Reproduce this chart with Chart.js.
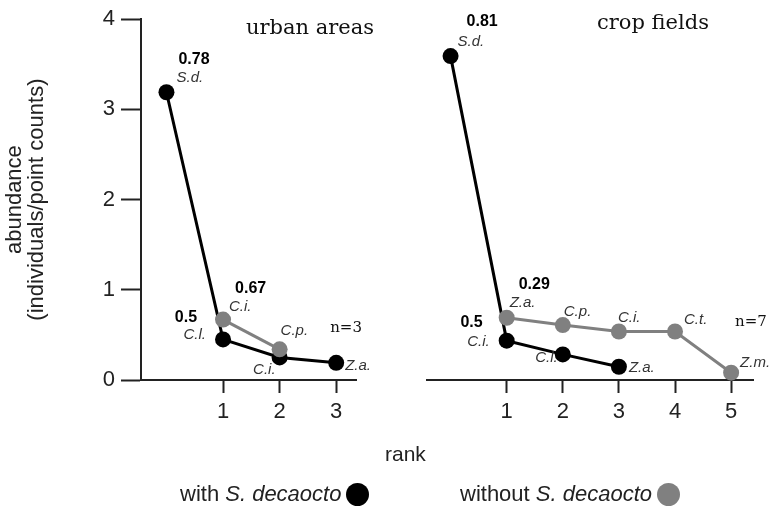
<!DOCTYPE html>
<html>
<head>
<meta charset="utf-8">
<script src="https://cdn.jsdelivr.net/npm/chart.js@4.4.1/dist/chart.umd.min.js"></script>
<style>
  body { margin: 0; background: #fff; }
  #wrap { position: relative; width: 769px; height: 513px; overflow: hidden; font-family: "Liberation Sans", Arial, sans-serif; color: #222; }
  canvas { position: absolute; top: 0; }
  .panel-title { position: absolute; font-family: "DejaVu Serif", serif; font-size: 21px; color: #111; white-space: nowrap; }
  .rank { position: absolute; left: 385px; top: 442px; font-size: 21px; }
  .legend { position: absolute; top: 481px; font-size: 22px; white-space: nowrap; display: flex; align-items: center; }
  .dot { display: inline-block; width: 23px; height: 23px; border-radius: 50%; margin-left: 5px; }
</style>
</head>
<body>
<div id="wrap">
  <canvas id="urbanChart" width="390" height="513" style="left:0"></canvas>
  <canvas id="cropChart" width="384" height="513" style="left:385px"></canvas>
  <div class="panel-title" style="left:246px; top:15px">urban areas</div>
  <div class="panel-title" style="left:597px; top:10px">crop fields</div>
  <div class="rank">rank</div>
  <div class="legend" style="left:180px">with&nbsp;<i>S. decaocto</i><span class="dot" style="background:#000"></span></div>
  <div class="legend" style="left:460px">without&nbsp;<i>S. decaocto</i><span class="dot" style="background:#808080"></span></div>
</div>
<script>
// urban areas
const urbanWithRank = [0, 1, 2, 3];
const urbanWithAbund = [3.19, 0.45, 0.25, 0.19];
const urbanWithSpecies = ['S.d.', 'C.l.', 'C.i.', 'Z.a.'];
const urbanWithoutRank = [1, 2];
const urbanWithoutAbund = [0.67, 0.34];
const urbanWithoutSpecies = ['C.i.', 'C.p.'];
const urbanShares = ['0.78', '0.5', '0.67'];
const urbanN = 'n=3';

// crop fields
const cropWithRank = [0, 1, 2, 3];
const cropWithAbund = [3.54, 0.43, 0.28, 0.145];
const cropWithSpecies = ['S.d.', 'C.i.', 'C.l.', 'Z.a.'];
const cropWithoutRank = [1, 2, 3, 4, 5];
const cropWithoutAbund = [0.68, 0.60, 0.53, 0.53, 0.08];
const cropWithoutSpecies = ['Z.a.', 'C.p.', 'C.i.', 'C.t.', 'Z.m.'];
const cropShares = ['0.81', '0.5', '0.29'];
const cropN = 'n=7';

const urbanXTicks = [1, 2, 3];
const cropXTicks = [1, 2, 3, 4, 5];
const yTicks = [0, 1, 2, 3, 4];

const INK = '#222';
const GREY = '#808080';

// where each note sits relative to its point: [dx, dy, align] or [dataset, index, dx, dy, align]
const urbanNotePos = {
  with: [[10, -14, 'left'], [-17, -5, 'right'], [-4, 12, 'right'], [9, 3, 'left']],
  without: [[6, -13, 'left'], [1, -19, 'left']],
  shares: [[1, 0, 12, -33, 'left'], [1, 1, -26, -22, 'right'], [0, 0, 12, -31, 'left']],
  n: [1, 3, -6, -35]
};
const cropNotePos = {
  with: [[7, -14, 'left'], [-17, 1, 'right'], [-5, 3, 'right'], [10, 1, 'left']],
  without: [[3, -15, 'left'], [1, -13, 'left'], [-1, -14, 'left'], [9, -12, 'left'], [9, -10, 'left']],
  shares: [[1, 0, 16, -34, 'left'], [1, 1, -24, -18, 'right'], [0, 0, 12, -33, 'left']],
  n: [0, 4, 4, -51]
};

function pts(xs, ys) { return xs.map((x, i) => ({ x: x, y: ys[i] })); }

function buildNotes(pos, withSp, withoutSp, shares, nText) {
  const notes = [];
  withSp.forEach((t, i) => notes.push({ ds: 1, idx: i, text: t, dx: pos.with[i][0], dy: pos.with[i][1], align: pos.with[i][2], kind: 'sp' }));
  withoutSp.forEach((t, i) => notes.push({ ds: 0, idx: i, text: t, dx: pos.without[i][0], dy: pos.without[i][1], align: pos.without[i][2], kind: 'sp' }));
  shares.forEach((t, i) => { const p = pos.shares[i]; notes.push({ ds: p[0], idx: p[1], text: t, dx: p[2], dy: p[3], align: p[4], kind: 'share' }); });
  notes.push({ ds: pos.n[0], idx: pos.n[1], text: nText, dx: pos.n[2], dy: pos.n[3], align: 'left', kind: 'n' });
  return notes;
}

const pointNotes = {
  id: 'pointNotes',
  afterDatasetsDraw(chart, args, opts) {
    const ctx = chart.ctx;
    ctx.save();
    ctx.textBaseline = 'middle';
    (opts.items || []).forEach(n => {
      const el = chart.getDatasetMeta(n.ds).data[n.idx];
      if (n.kind === 'sp') { ctx.font = 'italic 15px "Liberation Sans", Arial, sans-serif'; ctx.fillStyle = '#333'; }
      else if (n.kind === 'share') { ctx.font = 'bold 16px "Liberation Sans", Arial, sans-serif'; ctx.fillStyle = '#000'; }
      else { ctx.font = '15px "DejaVu Serif", serif'; ctx.fillStyle = '#111'; }
      ctx.textAlign = n.align;
      ctx.fillText(n.text, el.x + n.dx, el.y + n.dy);
    });
    ctx.restore();
  }
};

function makeChart(id, cfg) {
  const withoutSet = {
    label: 'without S. decaocto', data: pts(cfg.withoutRank, cfg.withoutAbund),
    borderColor: GREY, backgroundColor: GREY, borderWidth: 3, pointRadius: 8,
    pointBorderWidth: 0, pointHoverRadius: 8, tension: 0, clip: false
  };
  const withSet = {
    label: 'with S. decaocto', data: pts(cfg.withRank, cfg.withAbund),
    borderColor: '#000', backgroundColor: '#000', borderWidth: 3, pointRadius: 8,
    pointBorderWidth: 0, pointHoverRadius: 8, tension: 0, clip: false
  };
  return new Chart(document.getElementById(id), {
    type: 'line',
    data: { datasets: [withoutSet, withSet] },
    options: {
      responsive: false,
      animation: false,
      events: [],
      layout: { padding: cfg.padding },
      plugins: { legend: { display: false }, tooltip: { enabled: false }, pointNotes: { items: cfg.notes } },
      scales: {
        x: {
          type: 'linear', min: cfg.xMin, max: cfg.xMax,
          afterBuildTicks: s => { s.ticks = cfg.xTicks.map(v => ({ value: v })); },
          afterFit: s => { s.height = 60; },
          grid: { drawOnChartArea: false, drawTicks: true, tickLength: 13, tickWidth: 2, tickColor: INK },
          border: { display: true, color: INK, width: 2 },
          ticks: { color: INK, padding: 6, font: { family: '"Liberation Sans", Arial, sans-serif', size: 22 }, maxRotation: 0 }
        },
        y: {
          display: cfg.showY, min: 0, max: 4,
          afterBuildTicks: s => { s.ticks = yTicks.map(v => ({ value: v })); },
          afterFit: s => { s.width = cfg.showY ? 141 : 0; },
          grid: { drawOnChartArea: false, drawTicks: true, tickLength: 20, tickWidth: 2, tickColor: INK },
          border: { display: true, color: INK, width: 2 },
          ticks: { color: INK, padding: 6, font: { family: '"Liberation Sans", Arial, sans-serif', size: 22 } },
          title: {
            display: true, text: ['abundance', '(individuals/point counts)'], color: INK,
            padding: { top: 4, bottom: 0 },
            font: { family: '"Liberation Sans", Arial, sans-serif', size: 22, lineHeight: 1.0 }
          }
        }
      }
    },
    plugins: [pointNotes]
  });
}

makeChart('urbanChart', {
  withRank: urbanWithRank, withAbund: urbanWithAbund,
  withoutRank: urbanWithoutRank, withoutAbund: urbanWithoutAbund,
  xTicks: urbanXTicks, xMin: -0.45, xMax: 3.35, showY: true,
  padding: { left: 0, right: 34, top: 14, bottom: 73 },
  notes: buildNotes(urbanNotePos, urbanWithSpecies, urbanWithoutSpecies, urbanShares, urbanN)
});

makeChart('cropChart', {
  withRank: cropWithRank, withAbund: cropWithAbund,
  withoutRank: cropWithoutRank, withoutAbund: cropWithoutAbund,
  xTicks: cropXTicks, xMin: -0.42, xMax: 5.39, showY: false,
  padding: { left: 42, right: 16, top: 14, bottom: 73 },
  notes: buildNotes(cropNotePos, cropWithSpecies, cropWithoutSpecies, cropShares, cropN)
});
</script>
</body>
</html>
